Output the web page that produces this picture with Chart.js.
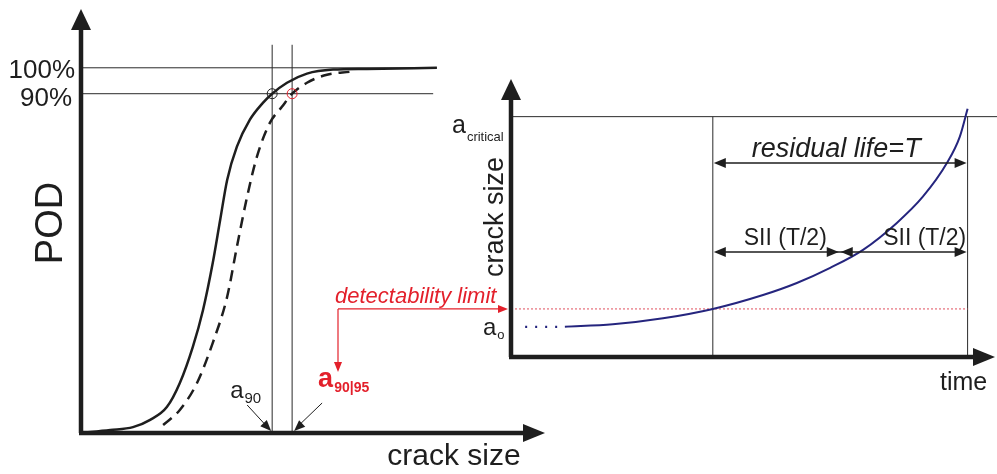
<!DOCTYPE html>
<html>
<head>
<meta charset="utf-8">
<script src="https://cdn.jsdelivr.net/npm/chart.js@4.4.1/dist/chart.umd.min.js"></script>
<style>
  html, body { margin: 0; padding: 0; background: #fff; }
  #wrap { position: relative; width: 997px; height: 474px; }
  #wrap canvas { position: absolute; left: 0; top: 0; }
</style>
</head>
<body>
<div id="wrap">
  <canvas id="podChart" width="997" height="474"></canvas>
  <canvas id="growthChart" width="997" height="474"></canvas>
</div>
<script>
// POD curve (left): crack size vs probability of detection
const podCrack = [0, 0.63, 1.12, 1.49, 1.85, 2.13, 2.41, 2.63, 2.84, 3.00, 3.15, 3.36, 3.64, 3.92, 4.12, 4.44, 4.87, 5.43, 6.16, 7.67];
const podSolid = [0, 0.008, 0.016, 0.036, 0.071, 0.137, 0.236, 0.337, 0.466, 0.584, 0.693, 0.784, 0.858, 0.904, 0.929, 0.959, 0.984, 0.995, 0.997, 1.0];
const podDashedCrack = [1.77, 2.13, 2.50, 2.84, 3.15, 3.36, 3.58, 3.79, 4.07, 4.33, 4.55, 4.87, 5.30, 5.80];
const podDashed = [0.022, 0.063, 0.137, 0.247, 0.373, 0.510, 0.647, 0.756, 0.849, 0.893, 0.929, 0.959, 0.981, 0.989];
const podLevels = [1.0, 0.929];
const podLevelLabels = ["100%", "90%"];
const podLevelEnd = [7.67, 7.59];
const a90 = 4.12;
const a9095 = 4.55;
const podMarkerTop = 1.063;

// crack growth (right): time vs crack size
const growthTime = [1.18, 2.23, 3.33, 4.42, 5.52, 6.26, 6.99, 7.71, 8.45, 9.02, 9.55, 9.83, 10.0];
const growthCrack = [1.26, 1.36, 1.61, 2.0, 2.58, 3.08, 3.71, 4.46, 5.58, 6.67, 8.08, 9.17, 10.33];
const aCritical = 10;
const aDetect = 2.0;
const aInitial = 1.25;
const aInitialDots = [0.31, 1.03];
const tDetect = 4.42;
const tHalf = 7.2;
const tCritical = 10;
const residualLevel = 8.07;
const halfLevel = 4.37;

const FONT = '"Liberation Sans", Arial, sans-serif';
const INK = "#1e1e1e";
const RED = "#e3202b";
const NAVY = "#25257e";

function line(ctx, x1, y1, x2, y2) {
  ctx.beginPath();
  ctx.moveTo(x1, y1);
  ctx.lineTo(x2, y2);
  ctx.stroke();
}

function arrowHead(ctx, x, y, angle, len, half) {
  ctx.save();
  ctx.translate(x, y);
  ctx.rotate(angle);
  ctx.beginPath();
  ctx.moveTo(0, 0);
  ctx.lineTo(-len, -half);
  ctx.lineTo(-len, half);
  ctx.closePath();
  ctx.fill();
  ctx.restore();
}

function subText(ctx, x, y, main, sub, size, subSize, weight, dy) {
  ctx.font = weight + " " + size + "px " + FONT;
  ctx.textAlign = "left";
  ctx.fillText(main, x, y);
  const w = ctx.measureText(main).width;
  ctx.font = weight + " " + subSize + "px " + FONT;
  ctx.fillText(sub, x + w + 1, y + dy);
}

function drawAxes(ctx, a) {
  ctx.save();
  ctx.strokeStyle = INK;
  ctx.fillStyle = INK;
  ctx.lineWidth = 4.5;
  line(ctx, a.left, a.bottom, a.left, a.top + 14);
  line(ctx, a.left - 2, a.bottom, a.right - 14, a.bottom);
  arrowHead(ctx, a.left, a.top - 4, -Math.PI / 2, 21, 10);
  arrowHead(ctx, a.right, a.bottom, 0, 22, 9);
  ctx.restore();
}

const podDecor = {
  id: "podDecor",
  beforeDatasetsDraw(chart) {
    const { ctx, scales: { x, y } } = chart;
    ctx.save();
    ctx.strokeStyle = "#2a2a2a";
    ctx.lineWidth = 1;
    podLevels.forEach((lv, i) => {
      const py = y.getPixelForValue(lv);
      line(ctx, x.getPixelForValue(0), py, x.getPixelForValue(podLevelEnd[i]), py);
    });
    [a90, a9095].forEach(v => {
      const px = x.getPixelForValue(v);
      line(ctx, px, y.getPixelForValue(0), px, y.getPixelForValue(podMarkerTop));
    });
    ctx.restore();
  },
  afterDraw(chart) {
    const { ctx, chartArea: a, scales: { x, y } } = chart;
    drawAxes(ctx, a);
    ctx.save();

    // markers at 90%
    const p90 = y.getPixelForValue(podLevels[1]);
    ctx.lineWidth = 1;
    ctx.strokeStyle = INK;
    ctx.beginPath();
    ctx.arc(x.getPixelForValue(a90), p90, 5, 0, Math.PI * 2);
    ctx.stroke();
    ctx.strokeStyle = RED;
    ctx.beginPath();
    ctx.arc(x.getPixelForValue(a9095), p90, 5, 0, Math.PI * 2);
    ctx.stroke();

    // level labels
    ctx.fillStyle = INK;
    ctx.font = "26px " + FONT;
    ctx.textAlign = "right";
    ctx.textBaseline = "middle";
    ctx.fillText(podLevelLabels[0], a.left - 6, y.getPixelForValue(podLevels[0]) + 3);
    ctx.fillText(podLevelLabels[1], a.left - 9, y.getPixelForValue(podLevels[1]) + 5);

    // axis titles
    ctx.save();
    ctx.translate(52, 223);
    ctx.rotate(-Math.PI / 2);
    ctx.textAlign = "center";
    ctx.font = "38px " + FONT;
    ctx.fillText("POD", 0, 0);
    ctx.restore();
    ctx.textBaseline = "alphabetic";
    ctx.textAlign = "center";
    ctx.font = "30px " + FONT;
    ctx.fillText("crack size", 454, 465);

    // a90 and a90|95 labels with arrows
    const x90 = x.getPixelForValue(a90);
    const x95 = x.getPixelForValue(a9095);
    const y0 = y.getPixelForValue(0) - 2;
    ctx.strokeStyle = INK;
    ctx.lineWidth = 1;
    line(ctx, x90 - 25, y0 - 26, x90 - 3, y0 - 2);
    arrowHead(ctx, x90 - 1, y0, Math.atan2(26, 25), 11, 4.5);
    line(ctx, x95 + 30, y0 - 28, x95 + 4, y0 - 3);
    arrowHead(ctx, x95 + 2, y0, Math.atan2(28, -30), 11, 4.5);

    ctx.fillStyle = INK;
    subText(ctx, x90 - 42, 398, "a", "90", 24, 15, "normal", 5);
    ctx.fillStyle = RED;
    subText(ctx, x95 + 26, 387, "a", "90|95", 27, 14, "bold", 5);
    ctx.restore();
  }
};

const growthDecor = {
  id: "growthDecor",
  beforeDatasetsDraw(chart) {
    const { ctx, scales: { x, y } } = chart;
    ctx.save();
    ctx.strokeStyle = "#2a2a2a";
    ctx.lineWidth = 1;
    const yc = y.getPixelForValue(aCritical);
    line(ctx, x.getPixelForValue(0), yc, chart.width, yc);
    [tDetect, tCritical].forEach(t => {
      const px = x.getPixelForValue(t);
      line(ctx, px, y.getPixelForValue(0), px, yc);
    });
    // detectability limit
    ctx.strokeStyle = "#e0505e";
    ctx.setLineDash([2, 2]);
    const yd = y.getPixelForValue(aDetect);
    line(ctx, x.getPixelForValue(0), yd, x.getPixelForValue(tCritical), yd);
    // initial crack size, dotted
    ctx.strokeStyle = NAVY;
    ctx.lineWidth = 2.2;
    ctx.setLineDash([2, 8]);
    const yi = y.getPixelForValue(aInitial);
    line(ctx, x.getPixelForValue(aInitialDots[0]), yi, x.getPixelForValue(aInitialDots[1]), yi);
    ctx.restore();
  },
  afterDraw(chart) {
    const { ctx, chartArea: a, scales: { x, y } } = chart;
    drawAxes(ctx, a);
    ctx.save();
    ctx.strokeStyle = INK;
    ctx.fillStyle = INK;
    ctx.lineWidth = 1.4;

    const xd = x.getPixelForValue(tDetect);
    const xh = x.getPixelForValue(tHalf);
    const xc = x.getPixelForValue(tCritical);

    // residual life arrow
    const yr = y.getPixelForValue(residualLevel);
    line(ctx, xd + 4, yr, xc - 4, yr);
    arrowHead(ctx, xd + 1, yr, Math.PI, 12, 5);
    arrowHead(ctx, xc - 1, yr, 0, 12, 5);

    // half intervals
    const ys = y.getPixelForValue(halfLevel);
    line(ctx, xd + 4, ys, xc - 4, ys);
    arrowHead(ctx, xd + 1, ys, Math.PI, 12, 5);
    arrowHead(ctx, xh - 1, ys, 0, 12, 5);
    arrowHead(ctx, xh + 1, ys, Math.PI, 12, 5);
    arrowHead(ctx, xc - 1, ys, 0, 12, 5);

    ctx.textBaseline = "alphabetic";
    ctx.textAlign = "center";
    ctx.font = "italic 27px " + FONT;
    ctx.fillText("residual life=T", (xd + xc) / 2 - 4, yr - 6);
    ctx.font = "23px " + FONT;
    ctx.fillText("SII (T/2)", (xd + xh) / 2 + 9, ys - 7);
    ctx.fillText("SII (T/2)", (xh + xc) / 2 + 21, ys - 7);

    // axis titles
    ctx.font = "25px " + FONT;
    ctx.textAlign = "left";
    ctx.fillText("time", 940, 390);
    ctx.save();
    ctx.translate(496, 217);
    ctx.rotate(-Math.PI / 2);
    ctx.textAlign = "center";
    ctx.textBaseline = "middle";
    ctx.font = "27px " + FONT;
    ctx.fillText("crack size", 0, 0);
    ctx.restore();

    subText(ctx, a.left - 59, y.getPixelForValue(aCritical) + 16, "a", "critical", 25, 13, "normal", 8);
    subText(ctx, a.left - 28, y.getPixelForValue(aInitial) + 8, "a", "o", 24, 13, "normal", 4);

    // detectability limit connector to a90|95
    const yd = y.getPixelForValue(aDetect);
    const xs = a.left - 173;
    ctx.strokeStyle = RED;
    ctx.fillStyle = RED;
    ctx.lineWidth = 1.2;
    line(ctx, xs, yd, a.left - 10, yd);
    arrowHead(ctx, a.left - 3, yd, 0, 10, 4);
    line(ctx, xs, yd, xs, yd + 55);
    arrowHead(ctx, xs, yd + 63, Math.PI / 2, 10, 4);
    ctx.font = "italic 22px " + FONT;
    ctx.textAlign = "left";
    ctx.fillText("detectability limit", xs - 3, yd - 6);
    ctx.restore();
  }
};

const noAxis = { display: false };

new Chart(document.getElementById("podChart"), {
  type: "scatter",
  data: {
    datasets: [
      {
        data: podCrack.map((c, i) => ({ x: c, y: podSolid[i] })),
        showLine: true,
        borderColor: INK,
        borderWidth: 2.5,
        pointRadius: 0,
        cubicInterpolationMode: "monotone"
      },
      {
        data: podDashedCrack.map((c, i) => ({ x: c, y: podDashed[i] })),
        showLine: true,
        borderColor: INK,
        borderWidth: 2.5,
        borderDash: [11, 7],
        pointRadius: 0,
        cubicInterpolationMode: "monotone"
      }
    ]
  },
  options: {
    responsive: false,
    animation: false,
    layout: { padding: { left: 81, right: 452, top: 13, bottom: 41 } },
    plugins: { legend: { display: false }, tooltip: { enabled: false } },
    scales: {
      x: { type: "linear", min: 0, max: 10, ...noAxis },
      y: { type: "linear", min: 0, max: 1.15, ...noAxis }
    }
  },
  plugins: [podDecor]
});

new Chart(document.getElementById("growthChart"), {
  type: "scatter",
  data: {
    datasets: [{
      data: growthTime.map((t, i) => ({ x: t, y: growthCrack[i] })),
      showLine: true,
      borderColor: NAVY,
      borderWidth: 2,
      pointRadius: 0,
      cubicInterpolationMode: "monotone"
    }]
  },
  options: {
    responsive: false,
    animation: false,
    layout: { padding: { left: 511, right: 2, top: 83, bottom: 117 } },
    plugins: { legend: { display: false }, tooltip: { enabled: false } },
    scales: {
      x: { type: "linear", min: 0, max: 10.6, ...noAxis },
      y: { type: "linear", min: 0, max: 11.4, ...noAxis }
    }
  },
  plugins: [growthDecor]
});
</script>
</body>
</html>
